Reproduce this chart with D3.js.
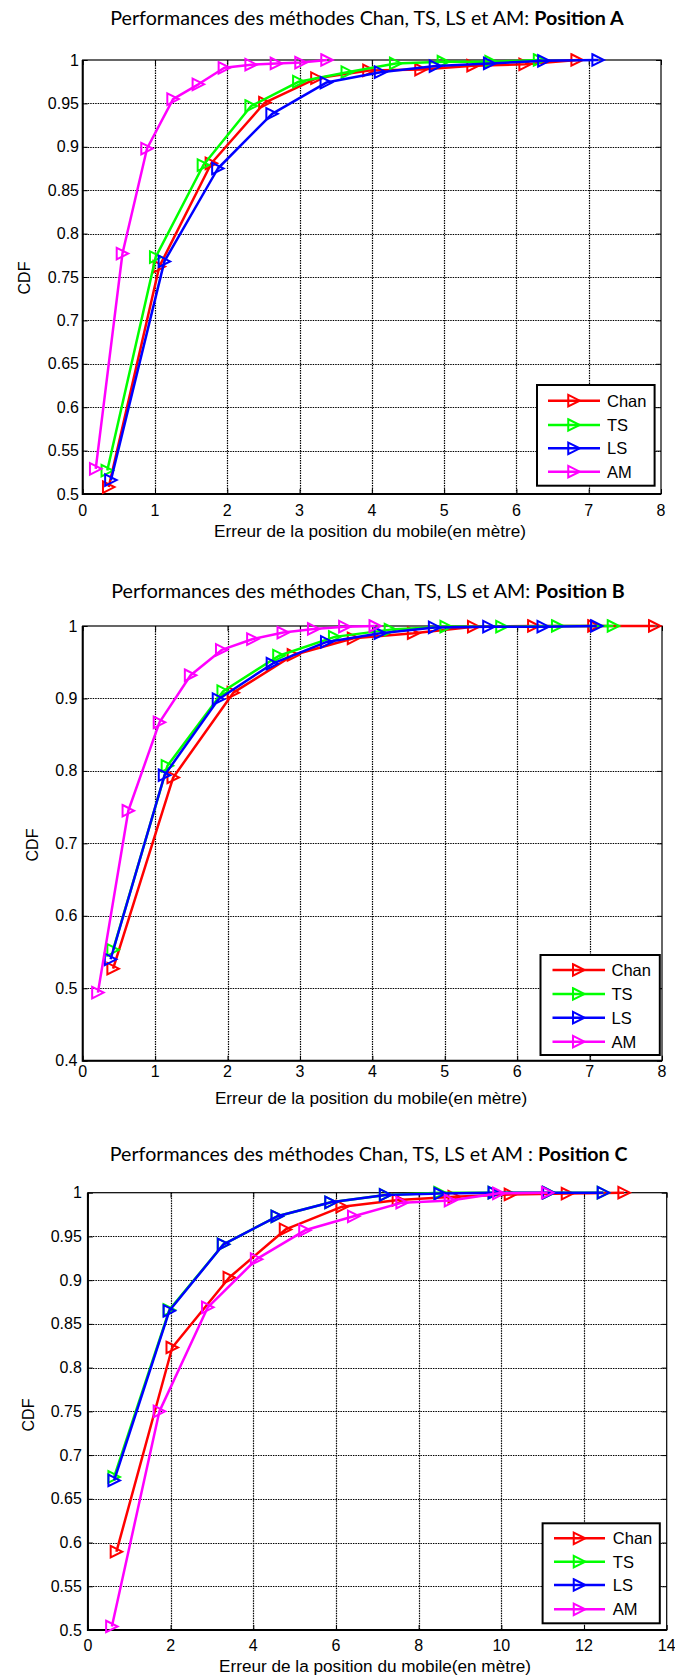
<!DOCTYPE html>
<html>
<head>
<meta charset="utf-8">
<script src="https://cdn.jsdelivr.net/npm/d3@7"></script>
<style>
  html, body { margin: 0; padding: 0; background: #fff; }
  svg { display: block; }
  .tick-label { font-family: "Liberation Sans", Arial, sans-serif; font-size: 16px; fill: #000; }
  .axis-title { font-family: "Liberation Sans", Arial, sans-serif; font-size: 17px; fill: #000; }
  .chart-title { font-family: Lato, "Open Sans", sans-serif; font-size: 19px; fill: #000; }
  .legend-label { font-family: "Liberation Sans", Arial, sans-serif; font-size: 16.5px; fill: #000; }
</style>
</head>
<body>
<svg id="fig" width="675" height="1678"></svg>
<script>
// ---- Series definitions ----
const seriesNames = ["Chan", "TS", "LS", "AM"];
const seriesColors = ["#ff0000", "#00ff00", "#0000ff", "#ff00ff"];

// ---- Position A : error (m) and CDF ----
const posA_chan_x = [0.36, 1.06, 1.78, 2.52, 3.24, 3.96, 4.68, 5.40, 6.12, 6.84];
const posA_chan_y = [0.508, 0.762, 0.881, 0.951, 0.979, 0.988, 0.989, 0.9935, 0.995, 1.0];
const posA_ts_x   = [0.34, 1.01, 1.67, 2.33, 2.99, 3.66, 4.33, 4.99, 5.65, 6.32];
const posA_ts_y   = [0.527, 0.773, 0.879, 0.947, 0.975, 0.986, 0.996, 0.998, 0.998, 1.0];
const posA_ls_x   = [0.39, 1.13, 1.87, 2.62, 3.37, 4.12, 4.88, 5.63, 6.38, 7.13];
const posA_ls_y   = [0.516, 0.768, 0.875, 0.938, 0.974, 0.986, 0.993, 0.996, 0.999, 1.0];
const posA_am_x   = [0.18, 0.55, 0.89, 1.25, 1.60, 1.96, 2.33, 2.68, 3.02, 3.38];
const posA_am_y   = [0.529, 0.777, 0.898, 0.955, 0.972, 0.991, 0.9946, 0.996, 0.997, 1.0];

// ---- Position B ----
const posB_chan_x = [0.42, 1.25, 2.08, 2.91, 3.74, 4.57, 5.40, 6.23, 7.06, 7.90];
const posB_chan_y = [0.527, 0.791, 0.908, 0.960, 0.983, 0.990, 0.999, 1.0, 1.0, 1.0];
const posB_ts_x   = [0.42, 1.17, 1.94, 2.71, 3.48, 4.25, 5.02, 5.79, 6.56, 7.33];
const posB_ts_y   = [0.553, 0.807, 0.910, 0.959, 0.985, 0.995, 0.999, 0.999, 1.0, 1.0];
const posB_ls_x   = [0.385, 1.13, 1.875, 2.62, 3.37, 4.11, 4.86, 5.61, 6.36, 7.10];
const posB_ls_y   = [0.540, 0.794, 0.899, 0.948, 0.978, 0.990, 0.998, 0.999, 0.999, 1.0];
const posB_am_x   = [0.21, 0.63, 1.06, 1.49, 1.92, 2.35, 2.77, 3.19, 3.62, 4.04];
const posB_am_y   = [0.494, 0.745, 0.867, 0.932, 0.967, 0.982, 0.991, 0.996, 0.999, 1.0];

// ---- Position C ----
const posC_chan_x = [0.69, 2.04, 3.42, 4.78, 6.15, 7.51, 8.86, 10.22, 11.60, 12.97];
const posC_chan_y = [0.5895, 0.823, 0.903, 0.958, 0.984, 0.9917, 0.9955, 0.998, 0.999, 1.0];
const posC_ts_x   = [0.635, 1.97, 3.28, 4.58, 5.88, 7.20, 8.52, 9.83, 11.15, 12.47];
const posC_ts_y   = [0.675, 0.866, 0.941, 0.973, 0.989, 0.9975, 1.0, 1.0, 1.0, 1.0];
const posC_ls_x   = [0.635, 1.97, 3.28, 4.58, 5.88, 7.20, 8.52, 9.83, 11.15, 12.47];
const posC_ls_y   = [0.671, 0.865, 0.941, 0.973, 0.989, 0.9974, 0.999, 1.0, 1.0, 1.0];
const posC_am_x   = [0.58, 1.73, 2.90, 4.08, 5.25, 6.43, 7.60, 8.77, 9.94, 11.12];
const posC_am_y   = [0.504, 0.750, 0.869, 0.924, 0.957, 0.973, 0.9886, 0.991, 0.9993, 1.0];

// ---- Axis ticks ----
const ticksX8  = [0, 1, 2, 3, 4, 5, 6, 7, 8];
const ticksX14 = [0, 2, 4, 6, 8, 10, 12, 14];
const ticksY05 = [0.5, 0.55, 0.6, 0.65, 0.7, 0.75, 0.8, 0.85, 0.9, 0.95, 1];
const ticksY04 = [0.4, 0.5, 0.6, 0.7, 0.8, 0.9, 1];

// ---- Text ----
const titleLead = "Performances des méthodes Chan, TS, LS et AM";
const xAxisLabel = "Erreur de la position du mobile(en mètre)";
const yAxisLabel = "CDF";

const zip = (xs, ys) => xs.map((x, i) => ({x, y: ys[i]}));

const panels = [
  {
    sep: ": ", tag: "Position A",
    series: [zip(posA_chan_x, posA_chan_y), zip(posA_ts_x, posA_ts_y), zip(posA_ls_x, posA_ls_y), zip(posA_am_x, posA_am_y)],
    xDomain: [0, 8], xTicks: ticksX8, yDomain: [0.5, 1], yTicks: ticksY05,
    box: {l: 82.7, r: 661, t: 60, b: 494},
    title: {cx: 367, y: 25, w: 514},
    xlab: {cx: 370, y: 537, w: 312}, xtickY: 515.5, ytickR: 79, ylab: {x: 24, y: 278},
    legend: {l: 537, t: 385, r: 654.6, b: 485.7, rows: [400.7, 425, 448.3, 471.7], l0: 548, l1: 600, tx: 607}
  },
  {
    sep: ": ", tag: "Position B",
    series: [zip(posB_chan_x, posB_chan_y), zip(posB_ts_x, posB_ts_y), zip(posB_ls_x, posB_ls_y), zip(posB_am_x, posB_am_y)],
    xDomain: [0, 8], xTicks: ticksX8, yDomain: [0.4, 1], yTicks: ticksY04,
    box: {l: 82.7, r: 662, t: 626, b: 1060.7},
    title: {cx: 368, y: 598, w: 514},
    xlab: {cx: 371, y: 1103.5, w: 312.6}, xtickY: 1077, ytickR: 77.5, ylab: {x: 32, y: 845},
    legend: {l: 540.5, t: 955, r: 659.8, b: 1055, rows: [970, 994, 1017.7, 1041.7], l0: 552.5, l1: 605, tx: 611.5}
  },
  {
    sep: " : ", tag: "Position C",
    series: [zip(posC_chan_x, posC_chan_y), zip(posC_ts_x, posC_ts_y), zip(posC_ls_x, posC_ls_y), zip(posC_am_x, posC_am_y)],
    xDomain: [0, 14], xTicks: ticksX14, yDomain: [0.5, 1], yTicks: ticksY05,
    box: {l: 87.9, r: 666.7, t: 1192.7, b: 1630},
    title: {cx: 368.6, y: 1160.7, w: 518},
    xlab: {cx: 375, y: 1672, w: 312}, xtickY: 1651, ytickR: 81.8, ylab: {x: 28, y: 1415},
    legend: {l: 542.6, t: 1523.3, r: 659.8, b: 1623.3, rows: [1538.3, 1561.7, 1585, 1609.3], l0: 554, l1: 605, tx: 612.8}
  }
];

const svg = d3.select("#fig");

// Right-pointing open triangle marker
const triPath = (s) => `M${-s/2},${-s/2} L${s/2},0 L${-s/2},${s/2} Z`;
const MARK = 11.5;

const fmtY = v => String(+v.toFixed(2));

// Stretch a text node horizontally so it spans the wanted width, centred on cx
function fitWidth(sel, cx, y, w) {
  const bw = sel.node().getComputedTextLength();
  sel.attr("x", 0).attr("y", 0).attr("text-anchor", "middle")
     .attr("transform", `translate(${cx},${y}) scale(${w / bw},1)`);
}

panels.forEach(p => {
  const g = svg.append("g");
  const x = d3.scaleLinear().domain(p.xDomain).range([p.box.l, p.box.r]);
  const y = d3.scaleLinear().domain(p.yDomain).range([p.box.b, p.box.t]);

  // dotted grid
  const grid = g.append("g").attr("stroke", "#000").attr("stroke-width", 1.2)
    .attr("stroke-dasharray", "1.5,1");
  grid.selectAll("line.gx").data(p.xTicks.slice(1, -1)).join("line")
    .attr("x1", d => Math.round(x(d)) + 0.5).attr("x2", d => Math.round(x(d)) + 0.5)
    .attr("y1", p.box.t).attr("y2", p.box.b);
  grid.selectAll("line.gy").data(p.yTicks.slice(1, -1)).join("line")
    .attr("y1", d => Math.round(y(d)) + 0.5).attr("y2", d => Math.round(y(d)) + 0.5)
    .attr("x1", p.box.l).attr("x2", p.box.r);

  // axes drawn with d3 axis generators (inward ticks)
  const xAxis = d3.axisBottom(x).tickValues(p.xTicks).tickSize(-5).tickFormat("");
  const xAxisTop = d3.axisTop(x).tickValues(p.xTicks).tickSize(-5).tickFormat("");
  const yAxis = d3.axisLeft(y).tickValues(p.yTicks).tickSize(-5).tickFormat("");
  const yAxisRight = d3.axisRight(y).tickValues(p.yTicks).tickSize(-5).tickFormat("");
  [
    [xAxis, `translate(0,${p.box.b})`],
    [xAxisTop, `translate(0,${p.box.t})`],
    [yAxis, `translate(${p.box.l},0)`],
    [yAxisRight, `translate(${p.box.r},0)`]
  ].forEach(([ax, tr]) => {
    const a = g.append("g").attr("transform", tr).call(ax);
    a.select(".domain").remove();
    a.selectAll("line").attr("stroke", "#000").attr("stroke-width", 1);
  });

  // frame
  g.append("rect").attr("x", p.box.l).attr("y", p.box.t)
    .attr("width", p.box.r - p.box.l).attr("height", p.box.b - p.box.t)
    .attr("fill", "none").attr("stroke", "#000").attr("stroke-width", 1.2);
  g.append("path")
    .attr("d", `M${p.box.l},${p.box.t} L${p.box.l},${p.box.b} L${p.box.r},${p.box.b}`)
    .attr("fill", "none").attr("stroke", "#000").attr("stroke-width", 2);

  // tick labels
  g.selectAll("text.xt").data(p.xTicks).join("text").attr("class", "tick-label")
    .attr("x", d => x(d)).attr("y", p.xtickY).attr("text-anchor", "middle").text(d => d);
  g.selectAll("text.yt").data(p.yTicks).join("text").attr("class", "tick-label")
    .attr("x", p.ytickR).attr("y", d => y(d) + 5.5).attr("text-anchor", "end").text(fmtY);

  // series lines and markers
  const line = d3.line().x(d => x(d.x)).y(d => y(d.y));
  p.series.forEach((data, i) => {
    const s = g.append("g");
    s.append("path").datum(data).attr("d", line)
      .attr("fill", "none").attr("stroke", seriesColors[i]).attr("stroke-width", 2.5)
      .attr("stroke-linejoin", "round");
    s.selectAll("path.mk").data(data).join("path")
      .attr("d", triPath(MARK))
      .attr("transform", d => `translate(${x(d.x)},${y(d.y)})`)
      .attr("fill", "none").attr("stroke", seriesColors[i]).attr("stroke-width", 2);
  });

  // legend
  const L = p.legend;
  const lg = g.append("g");
  lg.append("rect").attr("x", L.l).attr("y", L.t).attr("width", L.r - L.l).attr("height", L.b - L.t)
    .attr("fill", "#fff").attr("stroke", "#000").attr("stroke-width", 2);
  seriesNames.forEach((name, i) => {
    const ry = L.rows[i];
    lg.append("line").attr("x1", L.l0).attr("x2", L.l1).attr("y1", ry).attr("y2", ry)
      .attr("stroke", seriesColors[i]).attr("stroke-width", 2.5);
    lg.append("path").attr("d", triPath(MARK))
      .attr("transform", `translate(${(L.l0 + L.l1) / 2},${ry})`)
      .attr("fill", "none").attr("stroke", seriesColors[i]).attr("stroke-width", 2);
    lg.append("text").attr("class", "legend-label").attr("x", L.tx).attr("y", ry + 6).text(name);
  });

  // title
  const t = g.append("text").attr("class", "chart-title");
  t.append("tspan").text(titleLead + p.sep);
  t.append("tspan").attr("font-weight", "bold").text(p.tag);
  fitWidth(t, p.title.cx, p.title.y, p.title.w);

  // axis titles
  const xl = g.append("text").attr("class", "axis-title").text(xAxisLabel);
  fitWidth(xl, p.xlab.cx, p.xlab.y, p.xlab.w);
  g.append("text").attr("class", "axis-title")
    .attr("transform", `translate(${p.ylab.x + 6},${p.ylab.y}) rotate(-90)`)
    .attr("text-anchor", "middle").style("font-size", "16px").text(yAxisLabel);
});
</script>
</body>
</html>
